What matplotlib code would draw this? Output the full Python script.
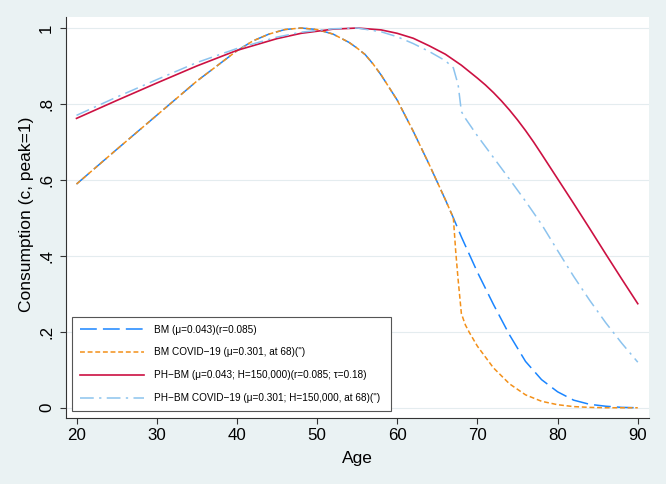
from matplotlib import pyplot as plt


# BM (blue dashed)
BM_AGE = [20, 25, 30, 35, 40, 42, 44, 46, 48, 50, 52, 54, 55, 56, 57, 58, 60, 62, 64, 66, 67,
          68, 70, 72, 74, 76, 78, 80, 82, 84, 86, 88, 90]
BM_C = [0.589, 0.680, 0.770, 0.860, 0.940, 0.966, 0.984, 0.996, 1.000, 0.996, 0.984,
        0.962, 0.947, 0.930, 0.905, 0.876, 0.810, 0.728, 0.640, 0.548, 0.500,
        0.450, 0.357, 0.272, 0.192, 0.122, 0.074, 0.042, 0.020, 0.009, 0.004, 0.001, 0.000]

# BM COVID-19 (orange short dash)
COV_AGE = [20, 25, 30, 35, 40, 42, 44, 46, 48, 50, 52, 54, 55, 56, 57, 58, 60, 62, 64, 66, 67,
           67.3, 67.6, 68, 68.5, 69, 70, 72, 74, 76, 78, 80, 82, 84, 86, 88, 90]
COV_C = [0.589, 0.680, 0.770, 0.860, 0.940, 0.966, 0.984, 0.996, 1.000, 0.996, 0.984,
         0.962, 0.947, 0.930, 0.905, 0.876, 0.810, 0.728, 0.640, 0.548, 0.500,
         0.410, 0.336, 0.248, 0.218, 0.198, 0.162, 0.105, 0.063, 0.034, 0.017, 0.008,
         0.003, 0.001, 0.000, 0.000, 0.000]

# PH-BM (red solid)
PH_AGE = [20, 25, 30, 35, 40, 45, 48, 52, 55, 58, 60, 62, 64, 66, 68, 70, 71, 72, 73, 74,
          75, 76, 77, 78, 80, 82, 84, 86, 88, 90]
PH_C = [0.762, 0.809, 0.855, 0.900, 0.941, 0.972, 0.986, 0.997, 1.000, 0.995, 0.986,
        0.973, 0.953, 0.931, 0.902, 0.868, 0.850, 0.830, 0.808, 0.784, 0.758, 0.730,
        0.700, 0.668, 0.603, 0.538, 0.472, 0.405, 0.339, 0.274]

# PH-BM COVID-19 (light blue dash-dot)
PHC_AGE = [20, 25, 30, 35, 40, 45, 48, 52, 55, 58, 60, 62, 64, 66, 67, 67.6, 68, 68.5,
           70, 72, 74, 76, 78, 80, 82, 84, 86, 88, 90]
PHC_C = [0.770, 0.818, 0.864, 0.909, 0.946, 0.976, 0.989, 0.998, 1.000, 0.990, 0.977,
         0.959, 0.938, 0.914, 0.895, 0.850, 0.780, 0.762, 0.716, 0.659, 0.602, 0.544,
         0.483, 0.414, 0.346, 0.283, 0.224, 0.170, 0.120]

LABELS = [
    'BM (\u03bc=0.043)(r=0.085)',
    'BM COVID\u221219 (\u03bc=0.301, at 68)(\'\')',
    'PH\u2212BM (\u03bc=0.043; H=150,000)(r=0.085; \u03c4=0.18)',
    'PH\u2212BM COVID\u221219 (\u03bc=0.301; H=150,000, at 68)(\'\')',
]

X_TICKS = [20, 30, 40, 50, 60, 70, 80, 90]
Y_TICKS = [0, 0.2, 0.4, 0.6, 0.8, 1.0]
Y_TICK_LABELS = ['0', '.2', '.4', '.6', '.8', '1']

BG = '#eaf2f3'
W, H = 666, 484


def main():
    plt.rcParams['font.family'] = ['Liberation Sans', 'DejaVu Sans']
    fig = plt.figure(figsize=(W / 100, H / 100), dpi=100, facecolor=BG)
    ax = fig.add_axes([66 / W, 1 - 418 / H, (649 - 66) / W, (418 - 17) / H])
    ax.set_facecolor('white')

    ax.plot(BM_AGE, BM_C, color='#1a85ff', lw=1.1, dashes=(11, 4), label=LABELS[0])
    ax.plot(COV_AGE, COV_C, color='#f39019', lw=1.1, dashes=(3.2, 1.8), label=LABELS[1])
    ax.plot(PH_AGE, PH_C, color='#cc1142', lw=1.2, label=LABELS[2])
    ax.plot(PHC_AGE, PHC_C, color='#8cc3ee', lw=1.1, dashes=(9, 3.5, 1.5, 3.5), label=LABELS[3])

    ax.set_xlim(18.69, 91.4)
    ax.set_ylim(-0.027, 1.029)
    ax.set_xticks(X_TICKS)
    ax.set_yticks(Y_TICKS)
    ax.set_yticklabels(Y_TICK_LABELS, rotation=90, va='center')
    ax.tick_params(axis='both', labelsize=12.2, length=4.5, width=0.8, color='#333333')
    ax.tick_params(axis='x', pad=3)
    ax.tick_params(axis='y', pad=4)
    for s in ['top', 'right']:
        ax.spines[s].set_visible(False)
    for s in ['left', 'bottom']:
        ax.spines[s].set_color('#333333')
        ax.spines[s].set_linewidth(0.8)
    ax.yaxis.grid(True, color='#e4ecef', lw=0.8)
    ax.set_axisbelow(True)

    fig.text(357.5 / W, 1 - 458.7 / H, 'Age', ha='center', va='center', fontsize=12.5)
    fig.text(27 / W, 1 - 214 / H, 'Consumption (c, peak=1)', ha='center', va='center',
             rotation=90, fontsize=12.5)

    leg = ax.legend(loc='lower left', bbox_to_anchor=(72 / W, 1 - 411 / H, (391 - 72) / W, 0.1),
                    bbox_transform=fig.transFigure, mode='expand', fontsize=7.2,
                    handlelength=6.4, handletextpad=1.0, labelspacing=1.28, borderpad=0.8,
                    borderaxespad=0, fancybox=False, framealpha=1, edgecolor='#555555')
    leg.get_frame().set_linewidth(0.8)

    fig.savefig('out.png', dpi=100, facecolor=BG)


if __name__ == '__main__':
    main()
